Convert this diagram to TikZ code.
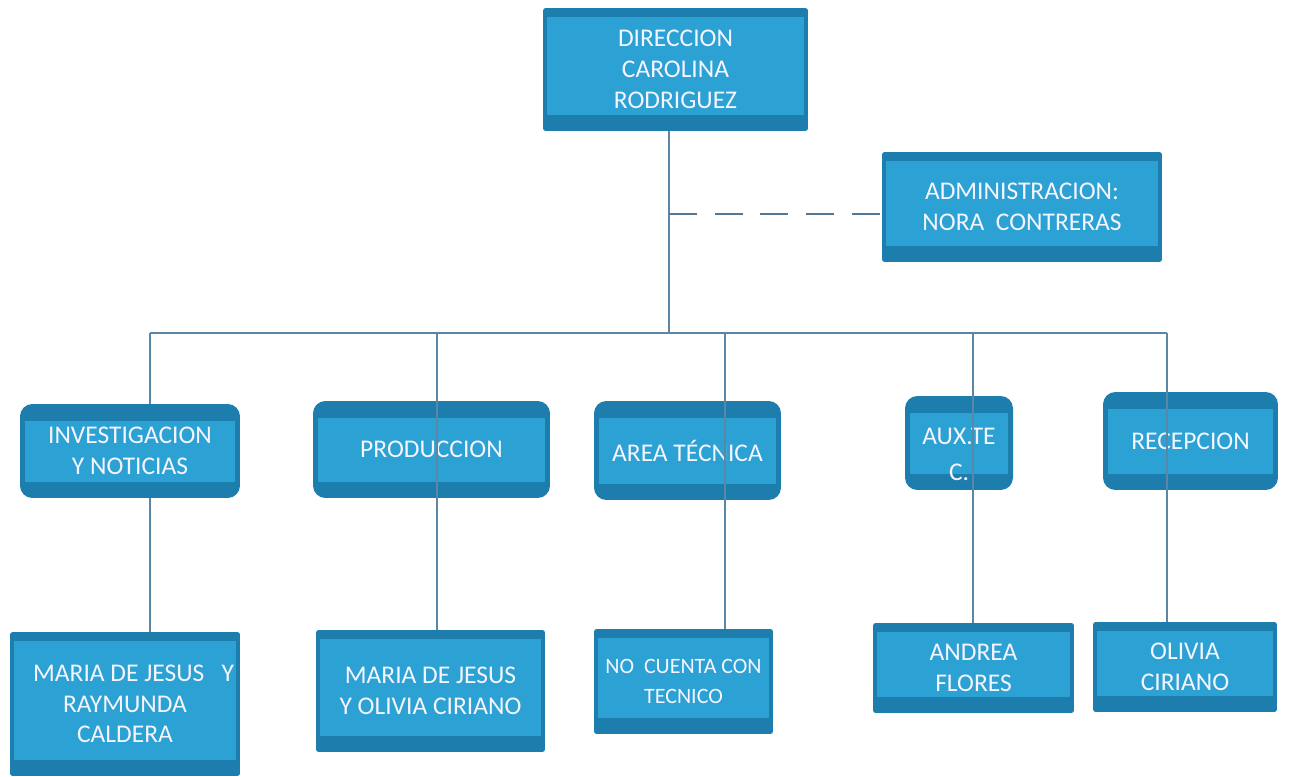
\documentclass[tikz,border=0pt]{standalone}
\usepackage{fontspec}
\setmainfont{Carlito}
\usepackage{tikz}
\definecolor{boxdark}{HTML}{1D7EAD}
\definecolor{boxlight}{HTML}{2CA1D3}
\definecolor{linecol}{HTML}{5A86A8}
\tikzset{
  box/.style={rectangle, rounded corners=1.5pt, fill=boxdark, text=white!96!blue, align=center,
    inner sep=0pt, font=\fontsize{14.5}{17.5}\selectfont,
    path picture={\fill[boxlight, sharp corners] ([xshift=2.5pt,yshift=9pt]path picture bounding box.south west)
      rectangle ([xshift=-2.5pt,yshift=-5pt]path picture bounding box.north east);}},
  rbox/.style={box, rounded corners=7pt,
    path picture={\fill[boxlight, sharp corners] ([xshift=3pt,yshift=9pt]path picture bounding box.south west)
      rectangle ([xshift=-3pt,yshift=-9.5pt]path picture bounding box.north east);}},
  link/.style={draw=linecol, line width=0.7pt},
  dashlink/.style={draw=linecol!90!black, line width=1.1pt, dash pattern=on 16pt off 10pt}
}
\begin{document}
\begin{tikzpicture}[x=0.02cm, y=-0.02cm]
\useasboundingbox (0,0) rectangle (1298,777);
\node[box, minimum width=5.3cm, minimum height=2.46cm] (dir) at (675.5,69.5) {DIRECCION\\CAROLINA\\RODRIGUEZ};
\node[box, minimum width=5.6cm, minimum height=2.2cm] (adm) at (1022,207) {ADMINISTRACION:\\NORA\ \ CONTRERAS};
\node[rbox, minimum width=4.4cm, minimum height=1.88cm] (inv) at (130,451) {INVESTIGACION\\Y NOTICIAS};
\node[rbox, minimum width=4.74cm, minimum height=1.94cm] (pro) at (431.5,449.5) {PRODUCCION};
\node[rbox, minimum width=3.74cm, minimum height=1.98cm] (are) at (687.5,450.5) {AREA TÉCNICA};
\node[rbox, minimum width=2.16cm, minimum height=1.88cm] (aux) at (959,443) {\rule{0pt}{22pt}AUX.TE\\[3pt]C.};
\node[rbox, minimum width=3.5cm, minimum height=1.96cm] (rec) at (1190.5,441) {RECEPCION};
\node[box, minimum width=4.6cm, minimum height=2.88cm] (mjr) at (125,704) {\ \ \ MARIA DE JESUS\ \ \ Y\\RAYMUNDA\\CALDERA};
\node[box, minimum width=4.58cm, minimum height=2.44cm] (mjo) at (430.5,691) {MARIA DE JESUS\\Y OLIVIA CIRIANO};
\node[box, minimum width=3.58cm, minimum height=2.1cm, font=\fontsize{12.5}{17}\selectfont] (nct) at (683.5,681.5) {NO\ \ CUENTA CON\\TECNICO};
\node[box, minimum width=4.02cm, minimum height=1.8cm] (anf) at (973.5,668) {ANDREA\\FLORES};
\node[box, minimum width=3.68cm, minimum height=1.8cm] (olc) at (1185,667) {OLIVIA\\CIRIANO};
\coordinate (bus) at (669,333);
\coordinate (b1) at (150,333);
\coordinate (b2) at (437,333);
\coordinate (b3) at (725,333);
\coordinate (b4) at (973,333);
\coordinate (b5) at (1167,333);
\draw[link] (dir.south -| bus) -- (bus);
\draw[dashlink] (bus |- 0,214) -- (adm.west |- 0,214);
\draw[link] (b1) -- (b5);
\draw[link] (b1) -- (b1 |- inv.north);
\draw[link] (b1 |- inv.south) -- (b1 |- mjr.north);
\draw[link] (b2) -- (b2 |- mjo.north);
\draw[link] (b3) -- (b3 |- nct.north);
\draw[link] (b4) -- (b4 |- anf.north);
\draw[link] (b5) -- (b5 |- olc.north);
\end{tikzpicture}
\end{document}
